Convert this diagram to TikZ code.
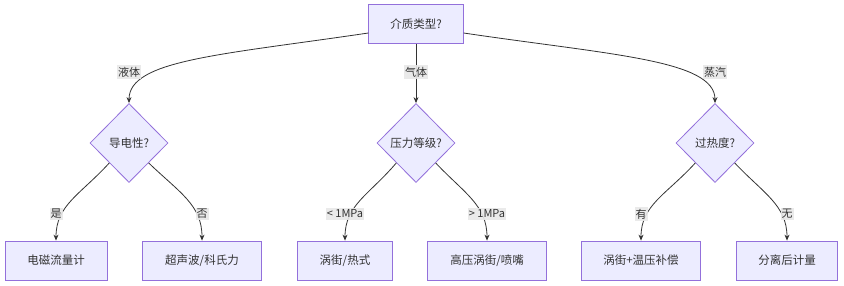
\documentclass[tikz,border=0pt]{standalone}
\usepackage{fontspec}
\setmainfont{Noto Sans CJK SC}
\usetikzlibrary{shapes.geometric,arrows.meta}
\definecolor{nodefill}{HTML}{ECECFF}
\definecolor{nodeline}{HTML}{9370DB}
\definecolor{ink}{HTML}{333333}
\definecolor{lblbg}{HTML}{E8E8E8}
\tikzset{
  box/.style={draw=nodeline, fill=nodefill, line width=0.8pt, rectangle, minimum height=39pt, inner xsep=21.5pt, inner ysep=0pt, text=ink, font=\fontsize{11.5}{13}\selectfont},
  dia/.style={draw=nodeline, fill=nodefill, line width=0.8pt, diamond, minimum width=78pt, minimum height=79pt, inner sep=0pt, text=ink, font=\fontsize{11.5}{13}\selectfont},
  conn/.style={draw=ink, line width=0.8pt, -{Stealth[length=6pt,width=5pt]}},
  lbl/.style={fill=lblbg, fill opacity=0.9, text opacity=1, text=ink, inner xsep=1pt, inner ysep=1.5pt, font=\fontsize{11}{12}\selectfont}
}
\begin{document}
\begin{tikzpicture}[x=1pt,y=-1pt]
\useasboundingbox (0,0) rectangle (844,286);
\node[box] (top) at (416,24) {介质类型?};
\node[dia] (d1) at (129,143) {导电性?};
\node[dia] (d2) at (416,143) {压力等级?};
\node[dia] (d3) at (715,143) {过热度?};
\node[box, minimum width=102pt] (b1) at (56,260.5) {电磁流量计};
\node[box, minimum width=119pt] (b2) at (202,260.5) {超声波/科氏力};
\node[box, minimum width=95pt] (b3) at (345,260.5) {涡街/热式};
\node[box, minimum width=119pt] (b4) at (487,260.5) {高压涡街/喷嘴};
\node[box, minimum width=119pt] (b5) at (641,260.5) {涡街+温压补偿};
\node[box, minimum width=101pt] (b6) at (787,260.5) {分离后计量};
\coordinate (tl) at ([yshift=-9pt]top.west);
\coordinate (tr) at ([yshift=-9pt]top.east);
\draw[conn] (tl) .. controls (220,55) and (129,60) .. (d1.north);
\draw[conn] (top.south) -- (d2.north);
\draw[conn] (tr) .. controls (612,55) and (715,60) .. (d3.north);
\draw[conn] (d1.south west) .. controls (80,195) and (56,205) .. (b1.north);
\draw[conn] (d1.south east) .. controls (180,193) and (202,205) .. (b2.north);
\draw[conn] (d2.south west) .. controls (369,195) and (345,205) .. (b3.north);
\draw[conn] (d2.south east) .. controls (464,193) and (487,205) .. (b4.north);
\draw[conn] (d3.south west) .. controls (666,195) and (641,205) .. (b5.north);
\draw[conn] (d3.south east) .. controls (763,193) and (787,205) .. (b6.north);
\node[lbl] (l1) at (129,72) {液体};
\node[lbl] (l2) at (416,72) {气体};
\node[lbl] (l3) at (715,72) {蒸汽};
\node[lbl] (l4) at (56,214) {是};
\node[lbl] (l5) at (202,214) {否};
\node[lbl] (l6) at (345,214) {< 1MPa};
\node[lbl] (l7) at (487,214) {> 1MPa};
\node[lbl] (l8) at (641,214) {有};
\node[lbl] (l9) at (787,214) {无};
\end{tikzpicture}
\end{document}
